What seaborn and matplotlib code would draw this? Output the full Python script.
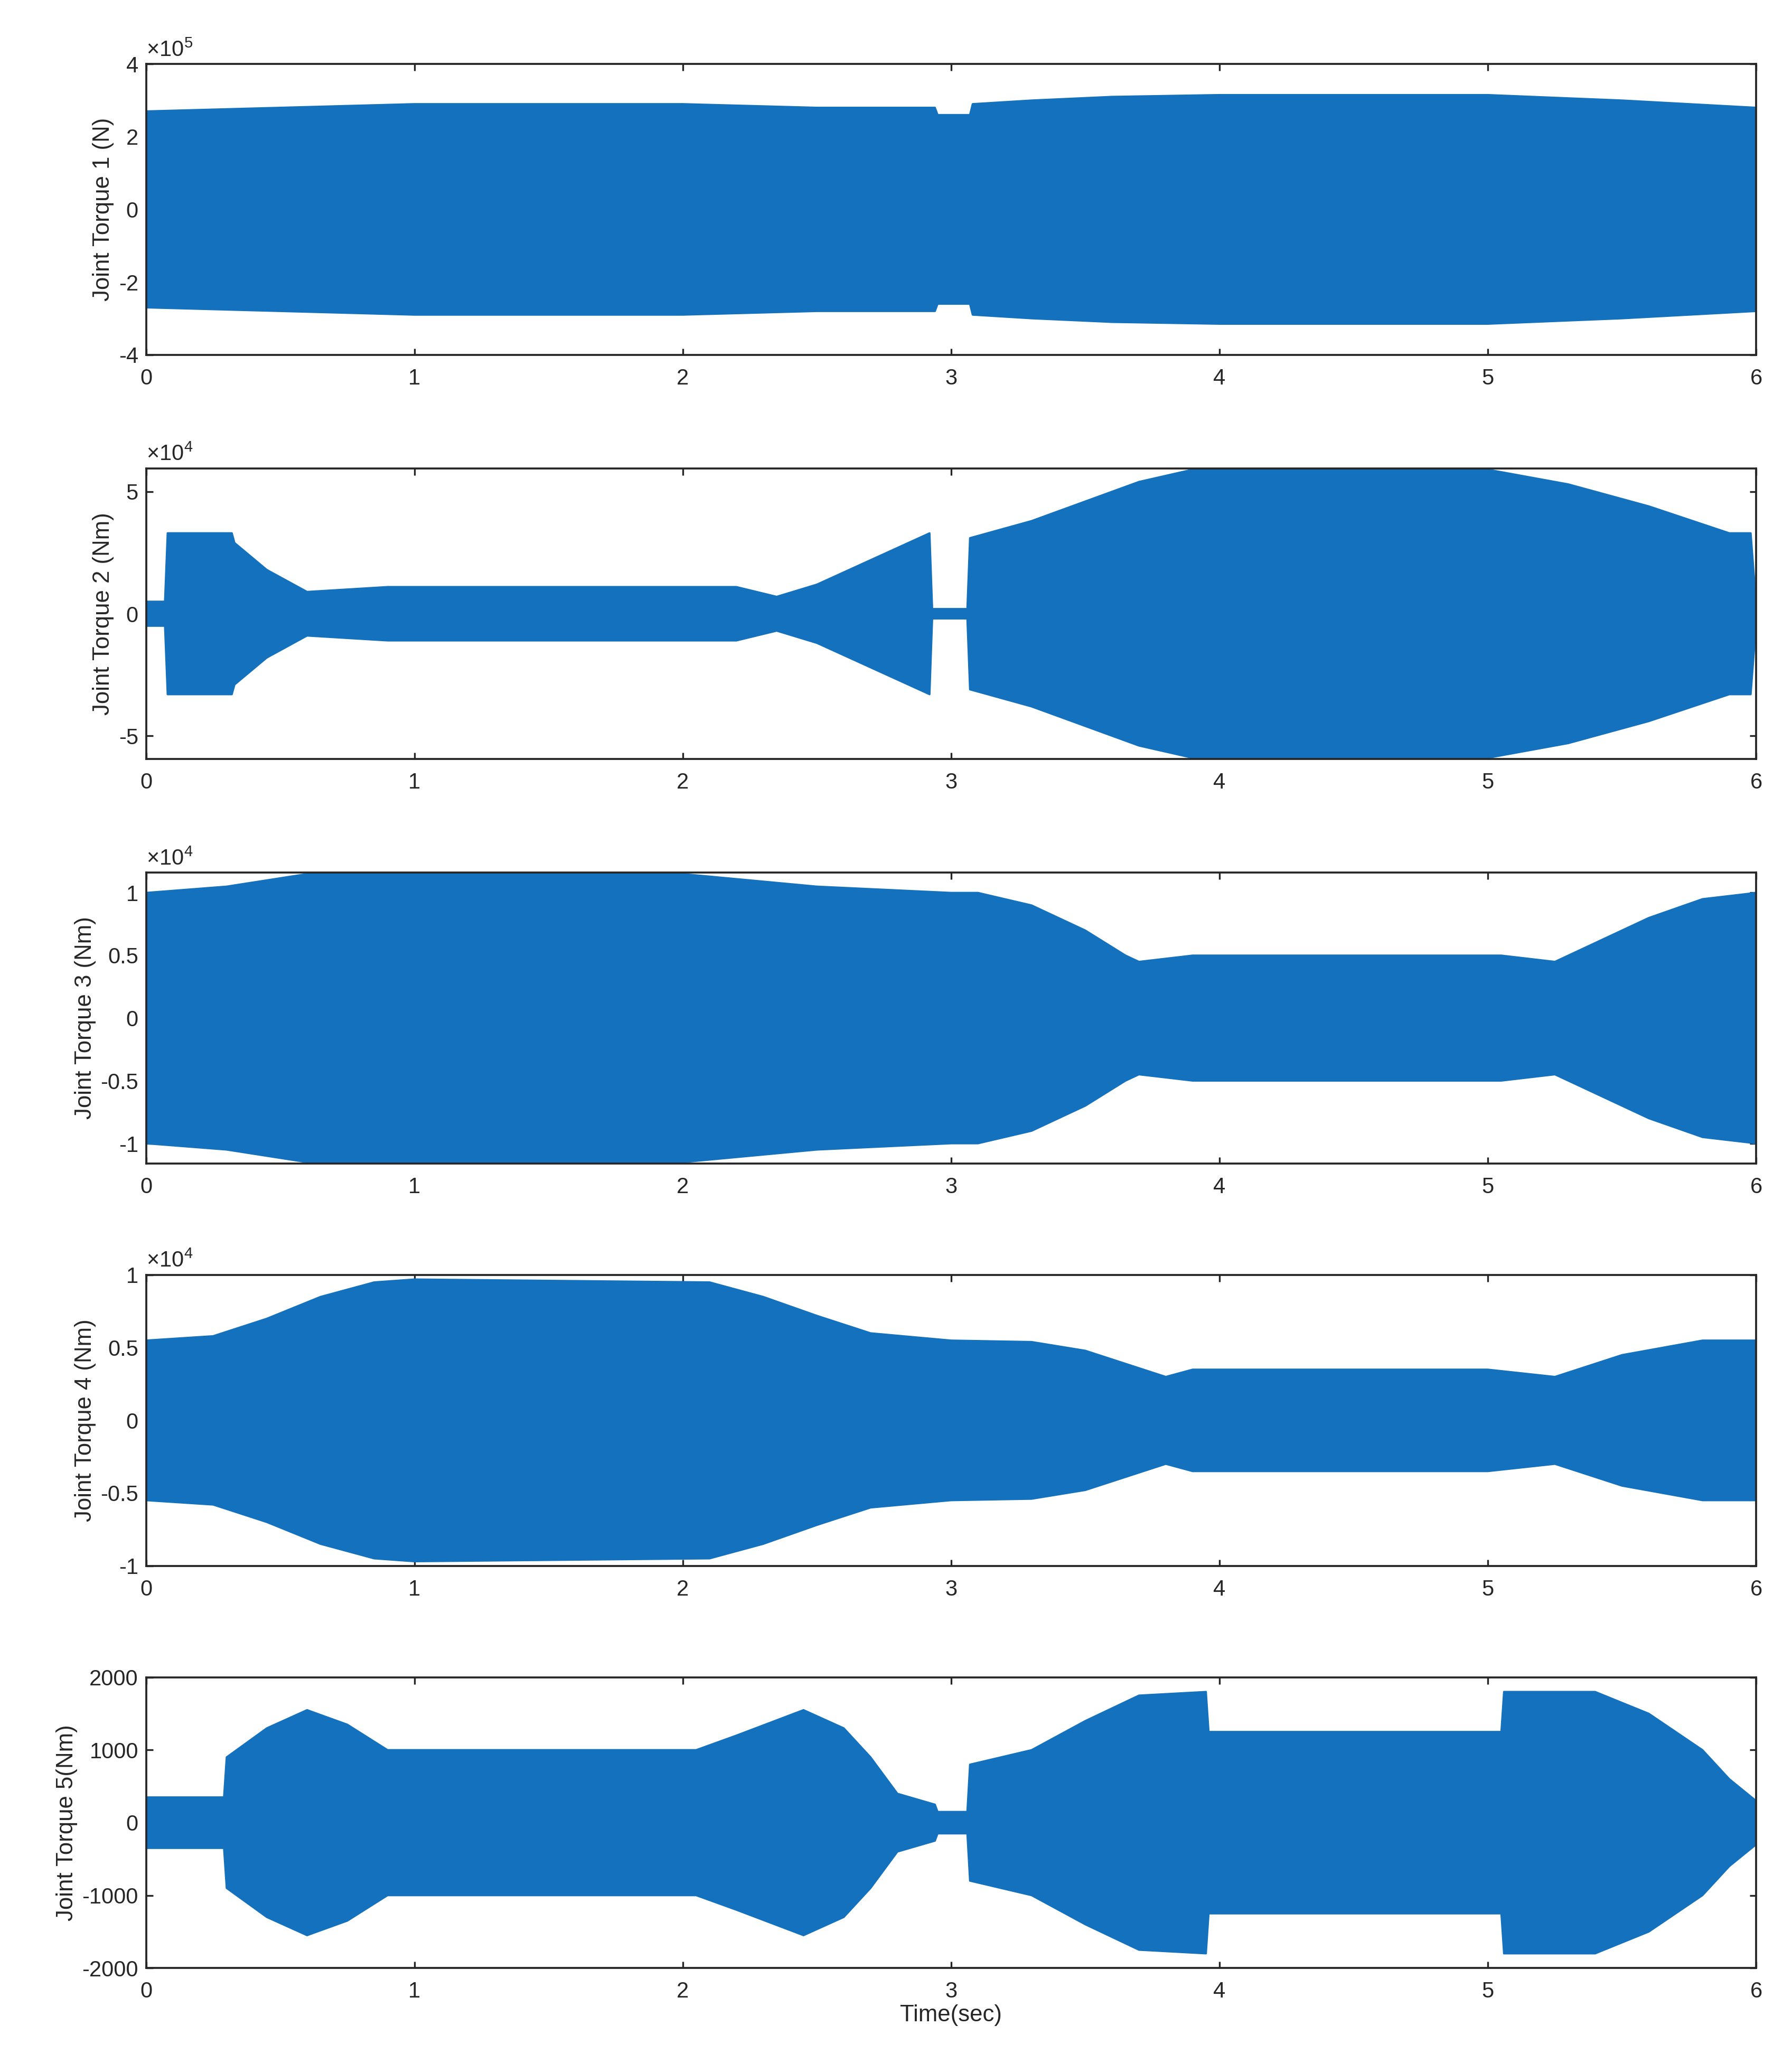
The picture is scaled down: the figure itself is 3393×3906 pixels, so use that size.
import matplotlib
matplotlib.use("Agg")
import matplotlib.pyplot as plt
import seaborn as sns
import numpy as np
import pandas as pd

sns.set_style("ticks")
plt.rcParams['font.family'] = ['Liberation Sans', 'DejaVu Sans']
plt.rcParams['mathtext.fontset'] = 'custom'
plt.rcParams['mathtext.rm'] = 'Liberation Sans'

COLOR = '#1371BE'

# Envelope (time, amplitude) of each torque signal
t1 = [0, 0.5, 1.0, 2.0, 2.5, 2.94, 2.95, 3.07, 3.08, 3.3, 3.6, 4.0, 5.0, 5.5, 6.0]
a1 = [2.7e5, 2.8e5, 2.9e5, 2.9e5, 2.8e5, 2.8e5, 2.6e5, 2.6e5, 2.9e5, 3.0e5, 3.1e5, 3.15e5, 3.15e5, 3.0e5, 2.8e5]

t2 = [0, 0.07, 0.08, 0.32, 0.33, 0.45, 0.6, 0.9, 2.2, 2.35, 2.5, 2.7, 2.92, 2.93, 3.06, 3.07, 3.3, 3.5, 3.7, 3.9, 5.0, 5.3, 5.6, 5.9, 5.98, 6.0]
a2 = [0.5e4, 0.5e4, 3.3e4, 3.3e4, 2.9e4, 1.8e4, 0.9e4, 1.1e4, 1.1e4, 0.7e4, 1.2e4, 2.2e4, 3.3e4, 0.2e4, 0.2e4, 3.1e4, 3.8e4, 4.6e4, 5.4e4, 5.9e4, 5.9e4, 5.3e4, 4.4e4, 3.3e4, 3.3e4, 0.4e4]

t3 = [0, 0.3, 0.6, 1.0, 2.0, 2.5, 3.0, 3.1, 3.3, 3.5, 3.65, 3.7, 3.9, 5.05, 5.25, 5.4, 5.6, 5.8, 6.0]
a3 = [1.0e4, 1.05e4, 1.15e4, 1.15e4, 1.15e4, 1.05e4, 1.0e4, 1.0e4, 0.9e4, 0.7e4, 0.5e4, 0.45e4, 0.5e4, 0.5e4, 0.45e4, 0.6e4, 0.8e4, 0.95e4, 1.0e4]

t4 = [0, 0.25, 0.45, 0.65, 0.85, 1.0, 2.1, 2.3, 2.5, 2.7, 3.0, 3.3, 3.5, 3.8, 3.9, 5.0, 5.25, 5.5, 5.8, 6.0]
a4 = [0.55e4, 0.58e4, 0.7e4, 0.85e4, 0.95e4, 0.97e4, 0.95e4, 0.85e4, 0.72e4, 0.6e4, 0.55e4, 0.54e4, 0.48e4, 0.3e4, 0.35e4, 0.35e4, 0.3e4, 0.45e4, 0.55e4, 0.55e4]

t5 = [0, 0.29, 0.3, 0.45, 0.6, 0.75, 0.9, 2.05, 2.2, 2.45, 2.6, 2.7, 2.8, 2.94, 2.95, 3.06, 3.07, 3.3, 3.5, 3.7, 3.95, 3.96, 5.05, 5.06, 5.4, 5.6, 5.8, 5.9, 6.0]
a5 = [350, 350, 900, 1300, 1550, 1350, 1000, 1000, 1200, 1550, 1300, 900, 400, 250, 150, 150, 800, 1000, 1400, 1750, 1800, 1250, 1250, 1800, 1800, 1500, 1000, 600, 300]

panels = [
    (t1, a1, 1e5, 4, [-4, -2, 0, 2, 4], ['-4', '-2', '0', '2', '4'], 'Joint Torque 1 (N)', r'$\times10^{5}$'),
    (t2, a2, 1e4, 5.95, [-5, 0, 5], ['-5', '0', '5'], 'Joint Torque 2 (Nm)', r'$\times10^{4}$'),
    (t3, a3, 1e4, 1.16, [-1, -0.5, 0, 0.5, 1], ['-1', '-0.5', '0', '0.5', '1'], 'Joint Torque 3 (Nm)', r'$\times10^{4}$'),
    (t4, a4, 1e4, 1.0, [-1, -0.5, 0, 0.5, 1], ['-1', '-0.5', '0', '0.5', '1'], 'Joint Torque 4 (Nm)', r'$\times10^{4}$'),
    (t5, a5, 1, 2000, [-2000, -1000, 0, 1000, 2000], ['-2000', '-1000', '0', '1000', '2000'], 'Joint Torque 5(Nm)', None),
]

fig = plt.figure(figsize=(3393/300, 3906/300), dpi=300)
tops = [0.969, 0.773, 0.577, 0.382, 0.187]
h = 0.141
for (t, a, sc, lim, ticks, labels, ylab, off), top in zip(panels, tops):
    ax = fig.add_axes([0.0815, top - h, 0.8985, h])
    df = pd.DataFrame({'t': t, 'up': np.array(a) / sc})
    df['lo'] = -df['up']
    ax.fill_between(df['t'], df['lo'], df['up'], color=COLOR, lw=0)
    sns.lineplot(data=df, x='t', y='up', ax=ax, color=COLOR, lw=0.8)
    sns.lineplot(data=df, x='t', y='lo', ax=ax, color=COLOR, lw=0.8)
    ax.set_xlim(0, 6)
    ax.set_ylim(-lim, lim)
    ax.set_yticks(ticks)
    ax.set_yticklabels(labels)
    ax.set_xticks(range(7))
    ax.tick_params(direction='in', labelsize=10, width=0.8, length=3, top=True, right=True)
    ax.tick_params(axis='x', pad=6)
    for s in ax.spines.values():
        s.set_linewidth(0.9)
        s.set_visible(True)
    ax.set_ylabel(ylab, fontsize=10.5, labelpad=2)
    ax.set_xlabel('')
    if off:
        ax.text(0.0, 1.01, off, transform=ax.transAxes, fontsize=10, ha='left', va='bottom')
ax.set_xlabel('Time(sec)', fontsize=10.5, labelpad=1)
fig.savefig('out.png', dpi=300)
